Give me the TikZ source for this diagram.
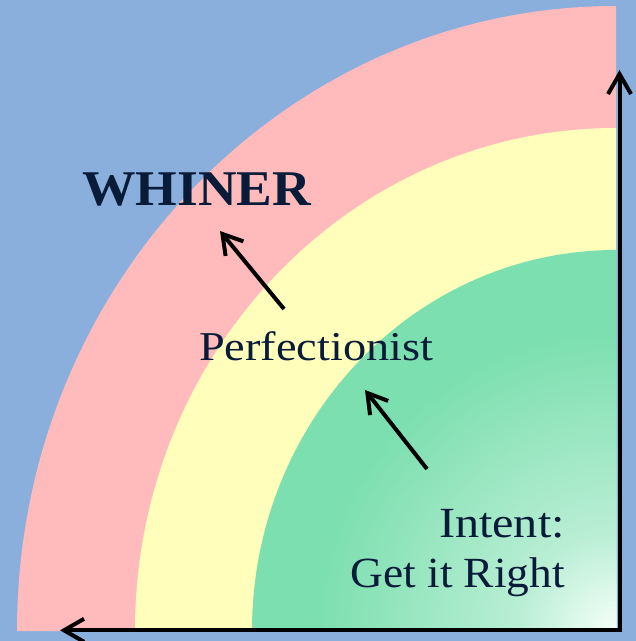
\documentclass[tikz,border=0pt]{standalone}
\usepackage{fontspec}
\setmainfont{Liberation Serif}
\usetikzlibrary{arrows.meta}
\definecolor{bgblue}{RGB}{138,175,220}
\definecolor{ringpink}{RGB}{255,187,187}
\definecolor{ringyellow}{RGB}{255,255,187}
\definecolor{ringgreen}{RGB}{124,223,175}
\definecolor{greenmid}{RGB}{185,238,212}
\definecolor{greencore}{RGB}{246,255,250}
\definecolor{inknavy}{RGB}{8,28,58}
\tikzset{
  lbl/.style={inner sep=0pt, text=inknavy},
  axisboth/.style={line width=4pt, line join=miter, {Straight Barb[length=20pt,width=23pt,line width=4pt]}-{Straight Barb[length=20pt,width=23pt,line width=4pt]}},
  pointer/.style={line width=4pt, -{Straight Barb[length=19pt,width=23pt,line width=4pt]}}
}
\begin{document}
\begin{tikzpicture}[x=1pt,y=-1pt]
\fill[bgblue] (0,0) rectangle (636,641);
\useasboundingbox (0,0) rectangle (636,641);
% rings
\fill[ringpink] (616,631) -- (17,631) arc[start angle=180, end angle=270, x radius=599, y radius=625] -- cycle;
\fill[ringyellow] (616,631) -- (135,631) arc[start angle=180, end angle=270, x radius=481, y radius=503] -- cycle;
\begin{scope}
\clip (616,631) -- (252,631) arc[start angle=180, end angle=270, x radius=364, y radius=381] -- cycle;
\fill[ringgreen] (616,631) -- (252,631) arc[start angle=180, end angle=270, x radius=364, y radius=381] -- cycle;
\foreach \r in {300,297,...,102} {
  \pgfmathtruncatemacro{\pa}{(\r-100)/2}
  \fill[ringgreen!\pa!greenmid] (616,631) circle (\r);
}
\foreach \r in {100,97,...,1} {
  \pgfmathtruncatemacro{\pb}{\r}
  \fill[greenmid!\pb!greencore] (616,631) circle (\r);
}
\end{scope}
% labels
\node[lbl, anchor=base west, font=\bfseries\fontsize{50}{56}\selectfont] (whiner) at (82,205) {\scalebox{1.07}[1]{WHINER}};
\node[lbl, anchor=base west, font=\fontsize{41}{48}\selectfont] (perf) at (199,360) {\scalebox{1.13}[1]{Perfectionist}};
\node[lbl, anchor=base east, font=\fontsize{43}{50}\selectfont] (intent) at (565,537) {\scalebox{1.12}[1]{Intent:}};
\node[lbl, anchor=base east, font=\fontsize{43}{50}\selectfont] (getright) at (565,587) {\scalebox{1.055}[1]{Get it Right}};
% pointers
\coordinate (p1s) at (284,309);
\coordinate (p1e) at (220,231);
\coordinate (p2s) at (427,469);
\coordinate (p2e) at (365,390);
\draw[pointer] (p1s) -- (p1e);
\draw[pointer] (p2s) -- (p2e);
% axes
\coordinate (origin) at (619.5,630.3);
\coordinate (ytop) at (619.5,70);
\coordinate (xleft) at (60,630.3);
\draw[axisboth] (xleft) -- (origin) -- (ytop);
\end{tikzpicture}
\end{document}
